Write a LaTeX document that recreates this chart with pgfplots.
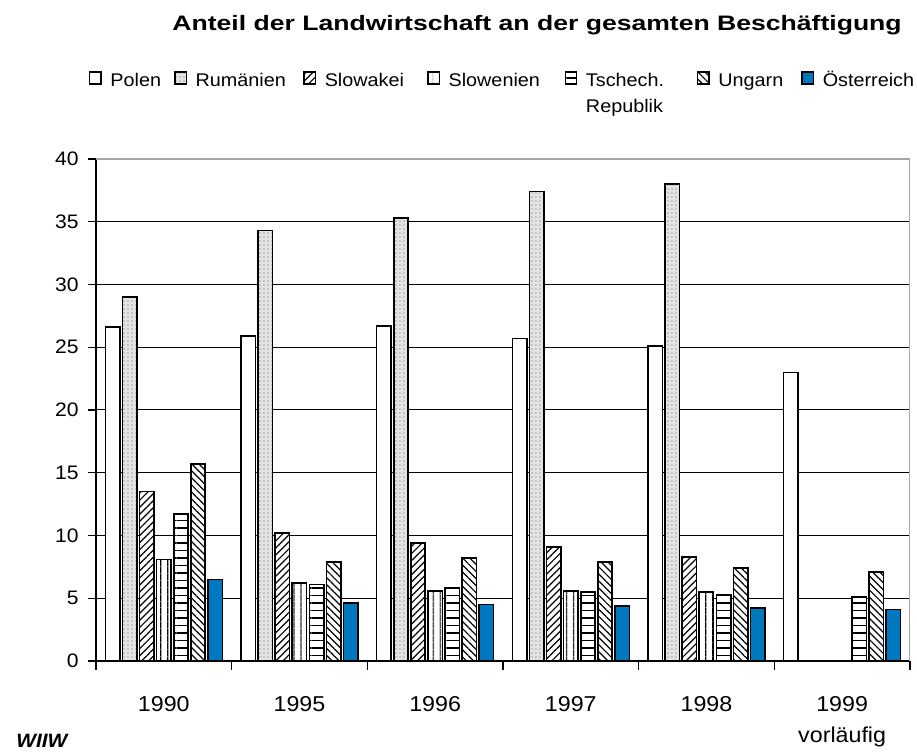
\documentclass[border=0pt]{standalone}
\usepackage{pgfplots}
\pgfplotsset{compat=1.18}
\usetikzlibrary{patterns,patterns.meta}
\usepackage{fontspec}
\setmainfont{Liberation Sans}[FakeStretch=1.08]
\newfontfamily\titlefont{Liberation Sans}[FakeStretch=1.27]
\definecolor{oeblue}{RGB}{0,120,192}
\begin{document}
\begin{tikzpicture}
\useasboundingbox (0,0) rectangle (458.5bp,376.5bp);
\begin{axis}[
  at={(48bp,46bp)}, anchor=south west,
  scale only axis, width=407bp, height=251bp,
  xmin=-0.5, xmax=5.5, ymin=0, ymax=40,
  ybar=1.35bp, bar width=7.2bp,
  axis x line*=bottom, axis y line*=left,
  axis line style={black, line width=0.7bp},
  xtick={0,1,2,3,4,5},
  xticklabels={1990,1995,1996,1997,1998,{1999\\vorläufig}},
  xticklabel style={font=\fontsize{10.8}{15.5bp}\selectfont, align=center, inner sep=0pt, yshift=-13.5bp},
  major x tick style={draw=none},
  minor xtick={-0.5,0.5,1.5,2.5,3.5,4.5,5.5},
  minor x tick style={black, line width=0.6bp},
  minor tick length=4.5bp,
  ytick={0,5,...,40},
  major y tick style={black, line width=0.6bp},
  major tick length=4bp,
  tick align=outside,
  yticklabel style={font=\fontsize{9.8}{11}\selectfont, inner sep=0pt, xshift=-4.5bp},
  /pgf/number format/assume math mode=true,
  ymajorgrids, grid style={black, line width=0.5bp},
  legend image code/.code={\draw[#1, line width=0.7bp] (0bp,-2bp) rectangle (5.75bp,4bp);},
  legend columns=-1,
  legend cell align=left,
  legend style={at={(-0.0086,1.1594)}, anchor=west, draw=none, fill=none,
    inner sep=0pt, outer sep=0pt, column sep=0pt,
    /tikz/every odd column/.append style={column sep=4.25bp},
    nodes={inner sep=0pt, text height=7bp, text depth=0pt},
    font=\fontsize{9.2}{12}\selectfont},
]
\addplot[draw=black, line width=0.8bp, fill=white] coordinates {(0,26.6) (1,25.9) (2,26.7) (3,25.7) (4,25.1) (5,23.0)};
\addlegendentry{\makebox[31.9bp][l]{Polen}}
\addplot[draw=black, line width=0.8bp, fill=gray!22, postaction={pattern={Dots[distance=2bp,radius=0.45bp]}, pattern color=gray!70}] coordinates {(0,29.0) (1,34.3) (2,35.3) (3,37.4) (4,38.0)};
\addlegendentry{\makebox[53.9bp][l]{Rumänien}}
\addplot[draw=black, line width=0.8bp, fill=white, postaction={pattern={Lines[angle=45,distance=2.5bp,line width=0.6bp]}, pattern color=black}] coordinates {(0,13.5) (1,10.2) (2,9.4) (3,9.1) (4,8.3)};
\addlegendentry{\makebox[51.2bp][l]{Slowakei}}
\addplot[draw=black, line width=0.8bp, fill=white, postaction={pattern={Lines[angle=90,distance=3.6bp,line width=0.6bp]}, pattern color=black}] coordinates {(0,8.1) (1,6.2) (2,5.6) (3,5.6) (4,5.5)};
\addlegendentry{\makebox[58bp][l]{Slowenien}}
\addplot[draw=black, line width=0.8bp, fill=white, postaction={pattern={Lines[angle=0,distance=3.75bp,line width=0.8bp]}, pattern color=black}] coordinates {(0,11.7) (1,6.1) (2,5.8) (3,5.5) (4,5.3) (5,5.1)};
\addlegendentry{\makebox[55.5bp][l]{\rlap{\smash{\raisebox{-13bp}{Republik}}}Tschech.}}
\addplot[draw=black, line width=0.8bp, fill=white, postaction={pattern={Lines[angle=-45,distance=2.5bp,line width=0.6bp]}, pattern color=black}] coordinates {(0,15.7) (1,7.9) (2,8.2) (3,7.9) (4,7.4) (5,7.1)};
\addlegendentry{\makebox[41.5bp][l]{Ungarn}}
\addplot[draw=black, line width=0.8bp, fill=oeblue] coordinates {(0,6.5) (1,4.6) (2,4.5) (3,4.4) (4,4.2) (5,4.1)};
\addlegendentry{Österreich}
\draw[gray!70, line width=0.7bp] (rel axis cs:0,1) -- (rel axis cs:1,1) -- (rel axis cs:1,0);
\end{axis}
\node[anchor=base west, inner sep=0pt, font={\titlefont\fontsize{10.5}{12}\selectfont\bfseries}] at (86bp,361bp) {Anteil der Landwirtschaft an der gesamten Beschäftigung};
\node[anchor=base west, inner sep=0pt, font={\fontsize{9.7}{11}\selectfont\bfseries\itshape}] at (8bp,3bp) {WIIW};
\end{tikzpicture}
\end{document}
